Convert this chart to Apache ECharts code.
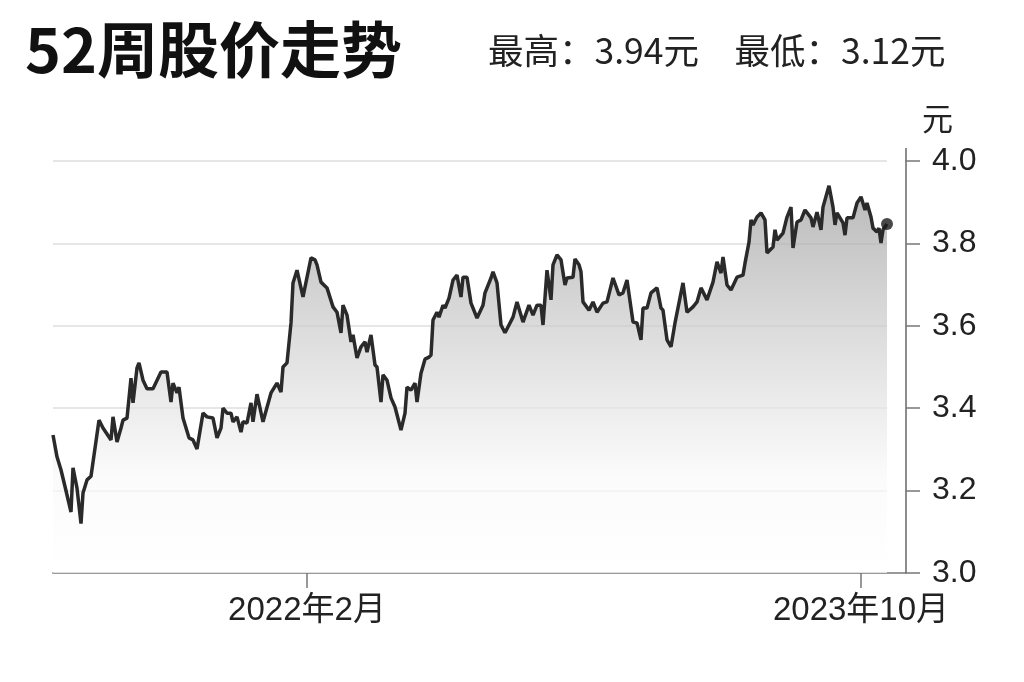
<!DOCTYPE html>
<html>
<head>
<meta charset="utf-8">
<title>52周股价走势</title>
<script src="https://cdn.jsdelivr.net/npm/echarts@6/dist/echarts.min.js"></script>
<style>
html, body { margin: 0; padding: 0; background: #fff; }
#chart { width: 1024px; height: 682px; }
</style>
</head>
<body>
<div id="chart"></div>
<script>
// 交易日序号（从起点算起）
var days = [0, 2, 4, 6, 9, 10, 12, 14, 15, 17, 19, 20, 23, 25, 29, 30, 32, 34, 35, 37,
	39, 40, 42, 43, 45, 47, 50, 54, 57, 59, 60, 62, 63, 65, 68, 70, 72, 75, 77, 80,
	82, 84, 85, 87, 89, 90, 92, 94, 95, 97, 99, 100, 102, 105, 109, 110, 112, 114, 115, 117,
	119, 120, 122, 125, 129, 131, 132, 134, 137, 140, 142, 144, 145, 147, 149, 150, 152, 154, 156, 157,
	159, 161, 162, 164, 165, 167, 169, 171, 174, 176, 177, 179, 181, 182, 184, 186, 188, 189, 190, 192,
	193, 195, 196, 198, 200, 201, 202, 204, 205, 207, 209, 212, 215, 216, 219, 220, 222, 224, 226, 228,
	230, 232, 235, 238, 240, 242, 244, 245, 247, 249, 250, 252, 254, 256, 257, 260, 261, 263, 264, 265,
	268, 270, 272, 275, 277, 280, 283, 285, 287, 290, 292, 294, 295, 297, 299, 302, 304, 305, 307, 309,
	311, 312, 315, 317, 320, 322, 324, 327, 330, 332, 334, 335, 337, 339, 342, 345, 346, 348, 349, 350,
	352, 354, 356, 357, 360, 361, 362, 365, 367, 369, 370, 372, 374, 376, 379, 380, 382, 384, 385, 388,
	390, 391, 392, 395, 396, 397, 400, 402, 404, 406, 407, 409, 410, 412, 413, 414, 415, 417];
// 收盘价（元）
var prices = [3.335, 3.282, 3.25, 3.21, 3.148, 3.255, 3.206, 3.12, 3.194, 3.226, 3.235, 3.233, 3.371, 3.352, 3.323, 3.379, 3.318, 3.352, 3.371, 3.376,
	3.473, 3.413, 3.498, 3.51, 3.468, 3.447, 3.447, 3.488, 3.488, 3.415, 3.461, 3.437, 3.451, 3.376, 3.328, 3.323, 3.301, 3.388, 3.379, 3.376,
	3.328, 3.352, 3.4, 3.388, 3.388, 3.367, 3.379, 3.342, 3.367, 3.364, 3.413, 3.367, 3.434, 3.367, 3.437, 3.439, 3.461, 3.439, 3.5, 3.51,
	3.607, 3.704, 3.735, 3.67, 3.765, 3.76, 3.748, 3.706, 3.692, 3.646, 3.633, 3.583, 3.65, 3.626, 3.561, 3.578, 3.522, 3.549, 3.561, 3.536,
	3.578, 3.505, 3.5, 3.415, 3.481, 3.468, 3.425, 3.403, 3.347, 3.388, 3.451, 3.444, 3.461, 3.415, 3.485, 3.519, 3.524, 3.529, 3.614, 3.633,
	3.621, 3.65, 3.643, 3.667, 3.711, 3.711, 3.723, 3.67, 3.718, 3.718, 3.655, 3.619, 3.65, 3.68, 3.716, 3.731, 3.704, 3.602, 3.583, 3.602,
	3.621, 3.658, 3.609, 3.65, 3.626, 3.65, 3.65, 3.602, 3.735, 3.663, 3.748, 3.772, 3.76, 3.699, 3.716, 3.718, 3.762, 3.748, 3.731, 3.658,
	3.638, 3.658, 3.633, 3.655, 3.658, 3.716, 3.675, 3.68, 3.711, 3.609, 3.607, 3.566, 3.643, 3.643, 3.68, 3.692, 3.643, 3.638, 3.566, 3.549,
	3.607, 3.607, 3.704, 3.633, 3.646, 3.658, 3.692, 3.663, 3.706, 3.755, 3.728, 3.767, 3.699, 3.687, 3.718, 3.723, 3.752, 3.803, 3.857, 3.845,
	3.864, 3.874, 3.857, 3.777, 3.791, 3.833, 3.808, 3.825, 3.864, 3.888, 3.789, 3.852, 3.857, 3.881, 3.862, 3.84, 3.876, 3.833, 3.888, 3.94,
	3.888, 3.845, 3.874, 3.85, 3.82, 3.862, 3.862, 3.898, 3.913, 3.881, 3.898, 3.864, 3.837, 3.828, 3.837, 3.801, 3.833, 3.847];
// x 轴刻度位置与文字
var tickDays = [127, 404];
var tickLabels = ['2022年2月', '2023年10月'];
// y 轴范围
var yMin = 3.0;
var yMax = 4.0;
var yStep = 0.2;

var CJK = 'Noto Sans CJK SC';
var NUM = 'Liberation Sans, Noto Sans CJK SC';

function createChart() {
	var myChart = echarts.init(document.getElementById('chart'), null, { renderer : 'canvas' });

	var series = [];
	for (var i = 0; i < days.length; i++) {
		series.push([ days[i], prices[i] ]);
	}
	var last = series[series.length - 1];
	var hi = Math.max.apply(null, prices).toFixed(2);
	var lo = Math.min.apply(null, prices).toFixed(2);
	var xMax = last[0];

	var option = {
		animation : false,
		backgroundColor : '#ffffff',
		title : [ {
			text : '52周股价走势',
			left : 20,
			top : 14,
			textStyle : {
				fontFamily : CJK,
				fontWeight : 'bold',
				fontSize : 61,
				color : '#111111'
			}
		}, {
			text : '最高：' + hi + '元　最低：' + lo + '元',
			left : 483,
			top : 28,
			textStyle : {
				fontFamily : CJK,
				fontWeight : 'normal',
				fontSize : 35.5,
				color : '#222222'
			}
		} ],
		grid : {
			left : 53,
			right : 137,
			top : 161,
			bottom : 109,
			containLabel : false
		},
		xAxis : {
			type : 'value',
			min : 0,
			max : xMax,
			axisLine : {
				onZero : false,
				lineStyle : { color : '#999999', width : 2 }
			},
			axisTick : {
				customValues : tickDays,
				length : 15,
				lineStyle : { color : '#777777', width : 1.5 }
			},
			axisLabel : {
				customValues : tickDays,
				margin : 21,
				fontFamily : NUM,
				fontSize : 33,
				color : '#222222',
				formatter : function(v) {
					var k = tickDays.indexOf(v);
					return k >= 0 ? tickLabels[k] : '';
				}
			},
			splitLine : { show : false }
		},
		yAxis : {
			type : 'value',
			position : 'right',
			offset : 19,
			min : yMin,
			max : yMax,
			interval : yStep,
			name : '元',
			nameLocation : 'end',
			nameGap : 27,
			nameTextStyle : {
				fontFamily : CJK,
				fontSize : 31,
				color : '#222222',
				align : 'left',
				padding : [ 0, 0, 0, 16 ]
			},
			axisLine : {
				show : true,
				onZero : false,
				lineStyle : { color : '#666666', width : 1.5 }
			},
			axisTick : {
				show : true,
				length : 14,
				lineStyle : { color : '#777777', width : 1.5 }
			},
			axisLabel : {
				margin : 26,
				fontFamily : NUM,
				fontSize : 32,
				color : '#222222',
				formatter : function(v) {
					return v.toFixed(1);
				}
			},
			splitLine : {
				show : true,
				lineStyle : { color : '#e6e6e6', width : 2 }
			}
		},
		series : [ {
			type : 'line',
			data : series,
			showSymbol : false,
			symbol : 'none',
			lineStyle : { color : '#2a2a2a', width : 3.5 },
			areaStyle : {
				color : new echarts.graphic.LinearGradient(0, 0, 0, 1, [
					{ offset : 0, color : '#9c9c9c' },
					{ offset : 0.3, color : '#c4c4c4' },
					{ offset : 0.55, color : '#e2e2e2' },
					{ offset : 0.75, color : '#f9f9f9' },
					{ offset : 1, color : '#ffffff' } ])
			},
			z : 3
		}, {
			type : 'scatter',
			data : [ last ],
			symbolSize : 12,
			itemStyle : { color : '#1a1a1a' },
			z : 4
		} ]
	};
	myChart.setOption(option);

	// 补画坐标轴延伸部分
	var pb = myChart.convertToPixel({ gridIndex : 0 }, [ xMax, yMin ]);
	var pt = myChart.convertToPixel({ gridIndex : 0 }, [ xMax, yMax ]);
	myChart.setOption({
		graphic : [ {
			type : 'line',
			shape : { x1 : pb[0], y1 : pb[1], x2 : pb[0] + 19, y2 : pb[1] },
			style : { stroke : '#999999', lineWidth : 2 }
		}, {
			type : 'line',
			shape : { x1 : pt[0] + 19, y1 : pt[1] - 13, x2 : pt[0] + 19, y2 : pt[1] },
			style : { stroke : '#666666', lineWidth : 1.5 }
		} ]
	});
}

createChart();
</script>
</body>
</html>
